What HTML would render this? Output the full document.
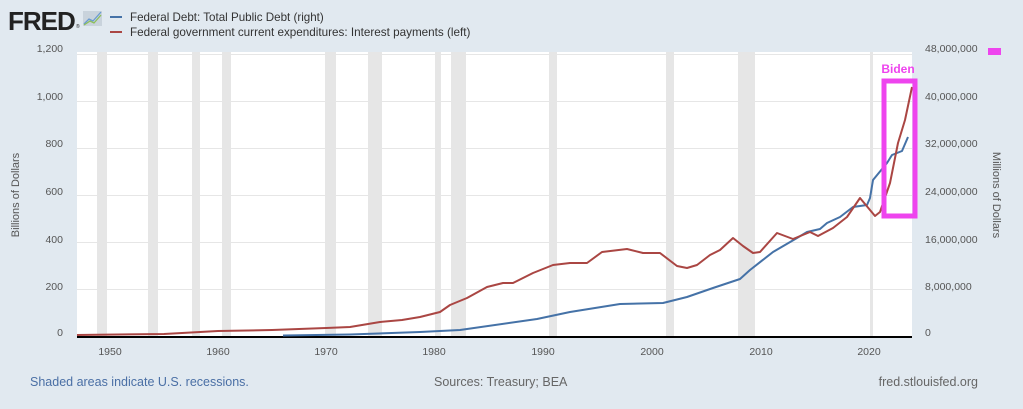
<!DOCTYPE html>
<html><head><meta charset="utf-8"><style>
html,body{margin:0;padding:0;background:#e1e9f0;}
body{width:1023px;height:404px;overflow:hidden;font-family:"Liberation Sans",sans-serif;}
</style></head><body>
<svg width="1023" height="404" xmlns="http://www.w3.org/2000/svg" font-family="Liberation Sans, sans-serif">
<rect width="1023" height="404" fill="#e1e9f0"/>
<text x="8" y="30" font-size="26" font-weight="bold" fill="#222" letter-spacing="-1">FRED</text>
<text x="76" y="28" font-size="5" fill="#222">®</text>
<rect x="83" y="11" width="19" height="15" fill="#c9d3dc"/>
<polyline points="84,24 89,19 93,21 101,12" fill="none" stroke="#6a9bd1" stroke-width="1.3"/>
<polyline points="84,25 90,21 94,23 101,15" fill="none" stroke="#8cbf5a" stroke-width="1.3"/>
<line x1="110" y1="17" x2="122" y2="17" stroke="#4572a7" stroke-width="2"/>
<text x="130" y="21" font-size="11.6" fill="#333">Federal Debt: Total Public Debt (right)</text>
<line x1="110" y1="32" x2="122" y2="32" stroke="#aa4643" stroke-width="2"/>
<text x="130" y="36" font-size="11.7" fill="#333">Federal government current expenditures: Interest payments (left)</text>
<rect x="77" y="52" width="835" height="285" fill="#fff"/>
<g fill="#e6e6e6">
<rect x="97" y="52" width="10" height="285"/><rect x="148" y="52" width="10" height="285"/>
<rect x="192" y="52" width="8" height="285"/><rect x="222" y="52" width="9" height="285"/>
<rect x="325" y="52" width="11" height="285"/><rect x="368" y="52" width="14" height="285"/>
<rect x="435" y="52" width="6" height="285"/><rect x="451" y="52" width="15" height="285"/>
<rect x="549" y="52" width="8" height="285"/><rect x="666" y="52" width="8" height="285"/>
<rect x="738" y="52" width="17" height="285"/><rect x="870" y="52" width="3" height="285"/>
</g>
<g stroke="#e6e6e6" stroke-width="1">
<line x1="77" x2="912" y1="54.5" y2="54.5"/><line x1="77" x2="912" y1="101.5" y2="101.5"/>
<line x1="77" x2="912" y1="148.5" y2="148.5"/><line x1="77" x2="912" y1="195.5" y2="195.5"/>
<line x1="77" x2="912" y1="242.5" y2="242.5"/><line x1="77" x2="912" y1="289.5" y2="289.5"/>
</g>
<line x1="77" x2="912" y1="337" y2="337" stroke="#000" stroke-width="2"/>
<g font-size="10.5" fill="#555" text-anchor="end">
<text x="63" y="52">1,200</text><text x="63" y="100">1,000</text><text x="63" y="147">800</text>
<text x="63" y="195">600</text><text x="63" y="243">400</text><text x="63" y="290">200</text><text x="63" y="336">0</text>
</g>
<g font-size="10.5" fill="#555" text-anchor="start">
<text x="925" y="52">48,000,000</text><text x="925" y="100">40,000,000</text><text x="925" y="147">32,000,000</text>
<text x="925" y="195">24,000,000</text><text x="925" y="243">16,000,000</text><text x="925" y="290">8,000,000</text><text x="925" y="336">0</text>
</g>
<g font-size="10.5" fill="#555" text-anchor="middle">
<text x="110" y="355">1950</text><text x="218" y="355">1960</text><text x="326" y="355">1970</text>
<text x="434" y="355">1980</text><text x="543" y="355">1990</text><text x="652" y="355">2000</text>
<text x="761" y="355">2010</text><text x="869" y="355">2020</text>
</g>
<text transform="translate(19,195) rotate(-90)" font-size="11" fill="#555" text-anchor="middle">Billions of Dollars</text>
<text transform="translate(993,195) rotate(90)" font-size="11" fill="#555" text-anchor="middle">Millions of Dollars</text>
<polyline fill="none" stroke="#4572a7" stroke-width="2" stroke-linejoin="round" points="283,335.5 350,334.5 420,332 460,330 537,319 570,312 620,304 663,303 687,297 713,288 740,279 750,270 773,252 797,238 807,232 820,229 827,223 840,217 853,207 867,205 870,198 873,180 887,163 892,155 902,151 908,137"/>
<polyline fill="none" stroke="#aa4643" stroke-width="2" stroke-linejoin="round" points="77,335 164,334 218,331 272,330 326,328 350,327 380,322 402,320 420,317 440,312 450,305 467,298 487,287 503,283 513,283 533,273 553,265 570,263 587,263 602,252 627,249 643,253 660,253 677,266 687,268 697,265 710,255 720,250 733,238 743,246 753,253 760,252 777,233 793,239 810,232 818,236 833,228 847,217 860,198 875,216 880,212 890,183 898,143 905,120 912,87"/>
<rect x="884" y="81" width="31" height="135" fill="none" stroke="#ee44ee" stroke-width="5"/>
<text x="898" y="73" font-size="12" font-weight="bold" fill="#ee44ee" text-anchor="middle">Biden</text>
<rect x="988" y="48" width="13" height="7" fill="#ee44ee"/>
<text x="30" y="386" font-size="12.5" fill="#4a6fa5">Shaded areas indicate U.S. recessions.</text>
<text x="434" y="386" font-size="12.5" fill="#666">Sources: Treasury; BEA</text>
<text x="978" y="386" font-size="12.5" fill="#666" text-anchor="end">fred.stlouisfed.org</text>
</svg>
</body></html>
